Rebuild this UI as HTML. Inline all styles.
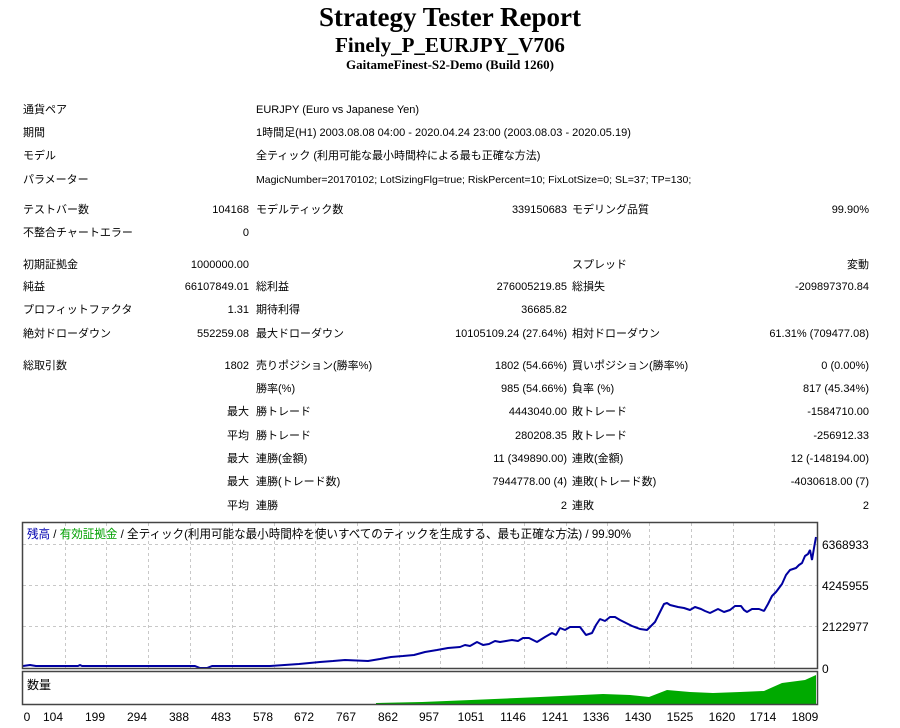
<!DOCTYPE html>
<html><head><meta charset="utf-8"><style>
body{margin:0;width:900px;height:728px;background:#fff;position:relative;overflow:hidden;font-family:"Liberation Sans","Noto Sans CJK JP",sans-serif;font-size:11px;color:#000}
.t{position:absolute;white-space:nowrap;line-height:14px}
.r{text-align:right}
.h{position:absolute;left:0;width:900px;text-align:center;font-family:"Liberation Serif",serif;font-weight:bold;white-space:nowrap}
</style></head><body>
<div class="h" style="top:2px;font-size:27px">Strategy Tester Report</div>
<div class="h" style="top:33px;font-size:21px">Finely_P_EURJPY_V706</div>
<div class="h" style="top:57px;font-size:13px">GaitameFinest-S2-Demo (Build 1260)</div>

<div class="t" style="left:23px;top:103px">通貨ペア</div><div class="t" style="left:256px;top:103px">EURJPY (Euro vs Japanese Yen)</div>
<div class="t" style="left:23px;top:126px">期間</div><div class="t" style="left:256px;top:126px">1時間足(H1) 2003.08.08 04:00 - 2020.04.24 23:00 (2003.08.03 - 2020.05.19)</div>
<div class="t" style="left:23px;top:149px">モデル</div><div class="t" style="left:256px;top:149px">全ティック (利用可能な最小時間枠による最も正確な方法)</div>
<div class="t" style="left:23px;top:173px">パラメーター</div><div class="t" style="left:256px;top:173px;font-size:10.5px">MagicNumber=20170102; LotSizingFlg=true; RiskPercent=10; FixLotSize=0; SL=37; TP=130;</div>

<div class="t" style="left:23px;top:203px">テストバー数</div><div class="t r" style="right:651px;top:203px">104168</div><div class="t" style="left:256px;top:203px">モデルティック数</div><div class="t r" style="right:333px;top:203px">339150683</div><div class="t" style="left:572px;top:203px">モデリング品質</div><div class="t r" style="right:31px;top:203px">99.90%</div>
<div class="t" style="left:23px;top:226px">不整合チャートエラー</div><div class="t r" style="right:651px;top:226px">0</div>

<div class="t" style="left:23px;top:258px">初期証拠金</div><div class="t r" style="right:651px;top:258px">1000000.00</div><div class="t" style="left:572px;top:258px">スプレッド</div><div class="t r" style="right:31px;top:258px">変動</div>
<div class="t" style="left:23px;top:280px">純益</div><div class="t r" style="right:651px;top:280px">66107849.01</div><div class="t" style="left:256px;top:280px">総利益</div><div class="t r" style="right:333px;top:280px">276005219.85</div><div class="t" style="left:572px;top:280px">総損失</div><div class="t r" style="right:31px;top:280px">-209897370.84</div>
<div class="t" style="left:23px;top:303px">プロフィットファクタ</div><div class="t r" style="right:651px;top:303px">1.31</div><div class="t" style="left:256px;top:303px">期待利得</div><div class="t r" style="right:333px;top:303px">36685.82</div>
<div class="t" style="left:23px;top:327px">絶対ドローダウン</div><div class="t r" style="right:651px;top:327px">552259.08</div><div class="t" style="left:256px;top:327px">最大ドローダウン</div><div class="t r" style="right:333px;top:327px">10105109.24 (27.64%)</div><div class="t" style="left:572px;top:327px">相対ドローダウン</div><div class="t r" style="right:31px;top:327px">61.31% (709477.08)</div>

<div class="t" style="left:23px;top:359px">総取引数</div><div class="t r" style="right:651px;top:359px">1802</div><div class="t" style="left:256px;top:359px">売りポジション(勝率%)</div><div class="t r" style="right:333px;top:359px">1802 (54.66%)</div><div class="t" style="left:572px;top:359px">買いポジション(勝率%)</div><div class="t r" style="right:31px;top:359px">0 (0.00%)</div>
<div class="t" style="left:256px;top:382px">勝率(%)</div><div class="t r" style="right:333px;top:382px">985 (54.66%)</div><div class="t" style="left:572px;top:382px">負率 (%)</div><div class="t r" style="right:31px;top:382px">817 (45.34%)</div>
<div class="t r" style="right:651px;top:405px">最大</div><div class="t" style="left:256px;top:405px">勝トレード</div><div class="t r" style="right:333px;top:405px">4443040.00</div><div class="t" style="left:572px;top:405px">敗トレード</div><div class="t r" style="right:31px;top:405px">-1584710.00</div>
<div class="t r" style="right:651px;top:429px">平均</div><div class="t" style="left:256px;top:429px">勝トレード</div><div class="t r" style="right:333px;top:429px">280208.35</div><div class="t" style="left:572px;top:429px">敗トレード</div><div class="t r" style="right:31px;top:429px">-256912.33</div>
<div class="t r" style="right:651px;top:452px">最大</div><div class="t" style="left:256px;top:452px">連勝(金額)</div><div class="t r" style="right:333px;top:452px">11 (349890.00)</div><div class="t" style="left:572px;top:452px">連敗(金額)</div><div class="t r" style="right:31px;top:452px">12 (-148194.00)</div>
<div class="t r" style="right:651px;top:475px">最大</div><div class="t" style="left:256px;top:475px">連勝(トレード数)</div><div class="t r" style="right:333px;top:475px">7944778.00 (4)</div><div class="t" style="left:572px;top:475px">連敗(トレード数)</div><div class="t r" style="right:31px;top:475px">-4030618.00 (7)</div>
<div class="t r" style="right:651px;top:499px">平均</div><div class="t" style="left:256px;top:499px">連勝</div><div class="t r" style="right:333px;top:499px">2</div><div class="t" style="left:572px;top:499px">連敗</div><div class="t r" style="right:31px;top:499px">2</div>

<svg style="position:absolute;left:0;top:0" width="900" height="728">
<g stroke="#c8c8c8" stroke-dasharray="3,3" stroke-width="1">
<line x1="23" y1="544.5" x2="817" y2="544.5"/><line x1="23" y1="585.5" x2="817" y2="585.5"/><line x1="23" y1="626.5" x2="817" y2="626.5"/>
<line x1="65.5" y1="523" x2="65.5" y2="668"/><line x1="106.5" y1="523" x2="106.5" y2="668"/><line x1="148.5" y1="523" x2="148.5" y2="668"/><line x1="190.5" y1="523" x2="190.5" y2="668"/><line x1="232.5" y1="523" x2="232.5" y2="668"/><line x1="274.5" y1="523" x2="274.5" y2="668"/><line x1="315.5" y1="523" x2="315.5" y2="668"/><line x1="357.5" y1="523" x2="357.5" y2="668"/><line x1="399.5" y1="523" x2="399.5" y2="668"/><line x1="440.5" y1="523" x2="440.5" y2="668"/><line x1="482.5" y1="523" x2="482.5" y2="668"/><line x1="524.5" y1="523" x2="524.5" y2="668"/><line x1="566.5" y1="523" x2="566.5" y2="668"/><line x1="607.5" y1="523" x2="607.5" y2="668"/><line x1="649.5" y1="523" x2="649.5" y2="668"/><line x1="691.5" y1="523" x2="691.5" y2="668"/><line x1="733.5" y1="523" x2="733.5" y2="668"/><line x1="774.5" y1="523" x2="774.5" y2="668"/>
</g>
<polygon fill="#00aa00" points="376,704 376,703 422,702 471,700 540,697 603,694 630,695 649,697 667,690 690,692 713,693 740,692 764,691 782,683 805,680 816,675 816,704"/>
<polyline fill="none" stroke="#0000a0" stroke-width="2" stroke-linejoin="bevel" points="23,666 30,665 36,666 78,666 80,665 82,666 195,666 200,668 207,668 212,666 270,666 299,664 320,662 333,661 345,660 368,661 380,659 391,657 403,656 414,655 425,652 437,650 448,648 460,647 465,645 470,646 477,642 483,645 489,644 495,641 500,642 506,641 512,640 518,641 523,638 529,638 537,642 545,637 552,633 556,635 560,628 565,630 570,627 575,627 580,627 586,635 592,633 596,625 600,619 605,621 610,617 615,617 620,620 624,622 628,624 632,626 640,629 647,630 649,628 655,622 660,612 664,604 667,603 670,605 674,606 678,607 684,608 690,610 695,607 701,609 705,611 710,613 714,611 718,609 724,612 730,610 735,606 741,606 744,610 747,612 752,609 759,609 764,611 768,604 772,596 776,592 779,588 782,584 786,575 790,570 793,569 796,568 799,565 802,563 805,556 808,554 810,550 812,560 814,548 816,537"/>
<rect x="22.5" y="522.5" width="795" height="146" fill="none" stroke="#444" stroke-width="1.5"/>
<rect x="22.5" y="671.5" width="795" height="33" fill="none" stroke="#444" stroke-width="1.5"/>
<g font-family="Liberation Sans, Noto Sans CJK JP, sans-serif" font-size="12">
<text x="822" y="549">6368933</text><text x="822" y="590">4245955</text><text x="822" y="631">2122977</text><text x="822" y="673">0</text>
<text x="27" y="538" textLength="604" lengthAdjust="spacingAndGlyphs"><tspan fill="#0000b0">残高</tspan> / <tspan fill="#00a000">有効証拠金</tspan> / 全ティック(利用可能な最小時間枠を使いすべてのティックを生成する、最も正確な方法) / 99.90%</text>
<text x="27" y="689">数量</text>
<g text-anchor="middle"><text x="27" y="721">0</text><text x="53" y="721">104</text><text x="95" y="721">199</text><text x="137" y="721">294</text><text x="179" y="721">388</text><text x="221" y="721">483</text><text x="263" y="721">578</text><text x="304" y="721">672</text><text x="346" y="721">767</text><text x="388" y="721">862</text><text x="429" y="721">957</text><text x="471" y="721">1051</text><text x="513" y="721">1146</text><text x="555" y="721">1241</text><text x="596" y="721">1336</text><text x="638" y="721">1430</text><text x="680" y="721">1525</text><text x="722" y="721">1620</text><text x="763" y="721">1714</text><text x="805" y="721">1809</text></g>
</g>
</svg>
</body></html>
